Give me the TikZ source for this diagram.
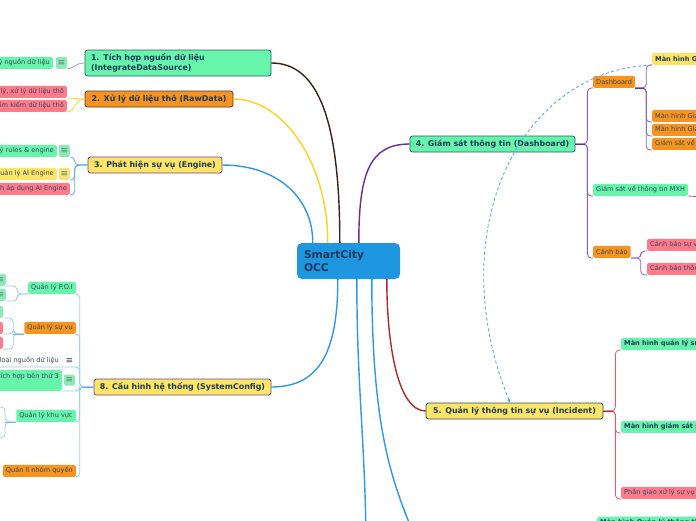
\documentclass[tikz,border=0pt]{standalone}
\usepackage{fontspec}
\setmainfont{DejaVu Sans}
\usetikzlibrary{arrows.meta}
\definecolor{mint}{HTML}{66F5AA}
\definecolor{mintic}{HTML}{8BEBB8}
\definecolor{orng}{HTML}{F7931E}
\definecolor{yell}{HTML}{FFE566}
\definecolor{yellic}{HTML}{F6E27A}
\definecolor{pink}{HTML}{FF7B8C}
\definecolor{ctrblue}{HTML}{1E96E0}
\definecolor{navy}{HTML}{1B3A5C}
\definecolor{txttwo}{HTML}{34495E}
\definecolor{icngray}{HTML}{5C7F6C}
\definecolor{brownln}{HTML}{3B2016}
\definecolor{yelln}{HTML}{FFD21F}
\definecolor{blueln}{HTML}{2E98E6}
\definecolor{purpln}{HTML}{6A2C91}
\definecolor{redln}{HTML}{B5262C}
\definecolor{lblue}{HTML}{9ACDF0}
\definecolor{lpurp}{HTML}{8E62BC}
\definecolor{lred}{HTML}{D8646A}
\definecolor{tealbd}{HTML}{2D5A67}
\definecolor{purpbd}{HTML}{6B3F93}
\definecolor{navybd}{HTML}{244A66}
\definecolor{darkbd}{HTML}{4A3A30}
\definecolor{dashblue}{HTML}{5FA8E8}
\begin{document}
\begin{tikzpicture}[x=1pt,y=-1pt,
  lone/.style={draw, line width=0.7pt, rounded corners=2.5pt, font=\fontsize{7.9}{9.6}\selectfont\bfseries, text=navy, minimum height=16pt, inner sep=0pt},
  ltwo/.style={rounded corners=1.5pt, font=\fontsize{6.6}{8}\selectfont, text=txttwo, minimum height=12pt, inner xsep=3pt, inner ysep=0pt},
  ltwob/.style={ltwo, font=\fontsize{6.6}{8}\selectfont\bfseries, text=navy},
  icn/.style={rounded corners=1.5pt, minimum width=11pt, minimum height=12pt, inner sep=0pt, font=\fontsize{9}{9}\selectfont, text=icngray},
  conn/.style={line width=1.4pt},
  brk/.style={line width=0.8pt, rounded corners=4pt},
]
\useasboundingbox (0,0) rectangle (696,520);
\clip (0,0) rectangle (696,520);

% center
\node[fill=ctrblue, rounded corners=5pt, minimum width=103pt, minimum height=36pt, text width=89pt, align=left, inner sep=0pt, font=\fontsize{10.7}{12.4}\selectfont\bfseries, text=navy] (c) at (348.5,261) {SmartCity\\OCC};

% level 1
\node[lone, fill=mint, draw=tealbd, minimum width=186pt, minimum height=26pt, text width=174pt, align=left] (n1) at (178,63) {1. Tích hợp nguồn dữ liệu\\(IntegrateDataSource)};
\node[lone, fill=orng, draw=darkbd, minimum width=148pt] (n2) at (159,99) {2. Xử lý dữ liệu thô (RawData)};
\node[lone, fill=yell, draw=purpbd, minimum width=134pt] (n3) at (155,165) {3. Phát hiện sự vụ (Engine)};
\node[lone, fill=yell, draw=purpbd, minimum width=177pt] (n8) at (182.5,387) {8. Cấu hình hệ thống (SystemConfig)};
\node[lone, fill=mint, draw=tealbd, minimum width=165pt] (n4) at (492.5,144) {4. Giám sát thông tin (Dashboard)};
\node[lone, fill=yell, draw=navybd, minimum width=177pt] (n5) at (514.5,411) {5. Quản lý thông tin sự vụ (Incident)};

% right level 2
\node[ltwo, fill=orng, anchor=south west] (dash) at (593,88) {Dashboard};
\node[ltwob, fill=yell, anchor=south west] (mhg) at (652,65) {Màn hình Giám sát tổng quan};
\node[ltwo, fill=orng, anchor=south west] (mha) at (652,122) {Màn hình Giám sát an ninh};
\node[ltwo, fill=orng, anchor=south west] (mhb) at (652,136) {Màn hình Giám sát giao thông};
\node[ltwo, fill=orng, anchor=south west] (gsv) at (652,150) {Giám sát về môi trường};
\node[ltwo, fill=mint, anchor=south west] (mxh) at (593,196) {Giám sát về thông tin MXH};
\node[ltwo, fill=orng, anchor=south west] (cb) at (593,258) {Cảnh báo};
\node[ltwo, fill=pink, anchor=south west] (cba) at (647,251) {Cảnh báo sự vụ};
\node[ltwo, fill=pink, anchor=south west] (cbb) at (647,275) {Cảnh báo thông tin};
\node[ltwob, fill=mint, anchor=south west] (ia) at (621,350) {Màn hình quản lý sự vụ};
\node[ltwob, fill=mint, anchor=south west] (ib) at (621,433) {Màn hình giám sát sự vụ};
\node[ltwo, fill=pink, anchor=south west] (ic) at (621,499) {Phân giao xử lý sự vụ};
\node[ltwob, fill=mint, anchor=north west] (bt) at (597,516.5) {Màn hình Quản lý thông tin};

% left level 2
\node[ltwo, fill=mint, anchor=south east] (ca) at (53,69) {Quản lý nguồn dữ liệu};
\node[icn, fill=mintic, anchor=south east] (can) at (67,69) {≡};
\node[ltwo, fill=pink, anchor=south east] (cba2) at (67,98) {Quản lý, xử lý dữ liệu thô};
\node[ltwo, fill=pink, anchor=south east] (cbb2) at (67,112) {Tìm kiếm dữ liệu thô};
\node[ltwo, fill=mint, anchor=south east] (cc1) at (57,157) {Quản lý rules \& engine};
\node[icn, fill=mintic, anchor=south east] (cc1n) at (70,157) {≡};
\node[ltwo, fill=yell, anchor=south east] (cc2) at (57,180) {Quản lý AI Engine};
\node[icn, fill=yellic, anchor=south east] (cc2n) at (70,180) {≡};
\node[ltwo, fill=pink, anchor=south east] (cc3) at (70,195) {Cấu hình áp dụng AI Engine};

\node[ltwo, fill=mint, anchor=south east] (poi) at (76,294) {Quản lý P.O.I};
\node[ltwo, fill=orng, anchor=south east] (suvu) at (76,334) {Quản lý sự vụ};
\node[ltwo, anchor=south east] (loai) at (62,367) {Quản lý loại nguồn dữ liệu};
\node[icn, anchor=south east, text=txttwo] (loain) at (75,367) {≡};
\node[ltwo, fill=mint, anchor=south east, align=left, minimum height=21pt] (tich) at (62,391) {Quản lý tích hợp bên thứ 3\\(API)};
\node[icn, fill=mintic, anchor=east, minimum height=11pt] (tichn) at (75,380) {≡};
\node[ltwo, fill=mint, anchor=south east] (khu) at (76,422) {Quản lý khu vực};
\node[ltwo, fill=orng, anchor=south east] (nhom) at (76,477) {Quản lí nhóm quyền};

\node[icn, fill=mintic, anchor=south east] (pa) at (6,286) {≡};
\node[icn, fill=mintic, anchor=south east] (pb) at (6,301) {≡};
\node[icn, fill=mintic, anchor=south east] (sa) at (3,318) {≡};
\node[ltwo, fill=pink, anchor=south east, minimum width=20pt] (sb) at (3,334) {};
\node[ltwo, fill=pink, anchor=south east, minimum width=20pt] (sc) at (3,349) {};
\coordinate (kva) at (-5,407);
\coordinate (kvb) at (-5,438);
\coordinate (mxhr) at (702,197);
\coordinate (da) at (366,530);
\coordinate (db) at (412,530);

% level 1 connectors
\draw[conn, brownln] (n1.east) .. controls +(48,0) and +(0,-120) .. ([xshift=43pt]c.north west);
\draw[conn, yelln] (n2.east) .. controls +(50,0) and +(0,-80) .. ([xshift=31pt]c.north west);
\draw[conn, blueln] (n3.east) .. controls +(55,0) and +(0,-45) .. ([xshift=16pt]c.north west);
\draw[conn, blueln] (n8.east) .. controls +(50,0) and +(0,70) .. ([xshift=41pt]c.south west);
\draw[conn, purpln] ([xshift=62pt]c.north west) .. controls +(0,-70) and +(-40,0) .. (n4.west);
\draw[conn, redln] ([xshift=90pt]c.south west) .. controls +(0,65) and +(-28,0) .. (n5.west);
\draw[conn, blueln] ([xshift=60pt]c.south west) .. controls +(0,100) and +(-2,-100) .. (da);
\draw[conn, blueln] ([xshift=75pt]c.south west) .. controls +(0,150) and +(-20,-50) .. (db);

% right brackets
\draw[brk, lpurp] (n4.east) -- ++(12,0) |- (dash.south west);
\draw[brk, lpurp] (n4.east) -- ++(12,0) |- (mxh.south west);
\draw[brk, lpurp] (n4.east) -- ++(12,0) |- (cb.south west);
\draw[line width=1pt, purpln] (n4.east) -- ++(10,0);
\draw[brk, lpurp] (dash.south east) -- ++(11,0) |- (mhg.south west);
\draw[brk, lpurp] (dash.south east) -- ++(11,0) |- (mha.south west);
\draw[brk, lpurp] (dash.south east) -- ++(11,0) |- (mhb.south west);
\draw[brk, lpurp] (dash.south east) -- ++(11,0) |- (gsv.south west);
\draw[line width=1pt, purpln] (dash.south east) -- ++(9,0);
\draw[brk, lpurp] (mxh.south east) -- (mxhr);
\draw[brk, lpurp] (cb.south east) -- ++(10,0) |- (cba.south west);
\draw[brk, lpurp] (cb.south east) -- ++(10,0) |- (cbb.south west);
\draw[brk, lred] (n5.east) -- ++(12,0) |- (ia.south west);
\draw[brk, lred] (n5.east) -- ++(12,0) |- (ib.south west);
\draw[brk, lred] (n5.east) -- ++(12,0) |- (ic.south west);
\draw[line width=1pt, redln] (n5.east) -- ++(10,0);

% left connectors
\draw[line width=0.8pt, gray!70] (n1.west) .. controls +(-10,0) and +(6,0) .. (can.south east);
\draw[line width=0.8pt, yelln] (n2.west) .. controls +(-10,0) and +(8,0) .. (cba2.south east);
\draw[line width=0.8pt, yelln] (n2.west) .. controls +(-10,0) and +(8,0) .. (cbb2.south east);
\draw[brk, blueln!80] (n3.west) -- ++(-13,0) |- (cc1n.south east);
\draw[brk, blueln!80] (n3.west) -- ++(-13,0) |- (cc2n.south east);
\draw[brk, blueln!80] (n3.west) -- ++(-13,0) |- (cc3.south east);
\draw[brk, lblue] (n8.west) -- ++(-14,0) |- (poi.south east);
\draw[brk, lblue] (n8.west) -- ++(-14,0) |- (suvu.south east);
\draw[brk, lblue] (n8.west) -- ++(-14,0) |- (loai.south west);
\draw[brk, lblue] (n8.west) -- ++(-14,0) |- (tich.south east);
\draw[brk, lblue] (n8.west) -- ++(-14,0) |- (khu.south east);
\draw[brk, lblue] (n8.west) -- ++(-14,0) |- (nhom.south east);
\draw[line width=1pt, blueln!80] (n8.west) -- ++(-12,0);
\draw[brk, lblue] (poi.south west) -- ++(-11,0) |- (pa.south east);
\draw[brk, lblue] (poi.south west) -- ++(-11,0) |- (pb.south east);
\draw[brk, lblue] (suvu.south west) -- ++(-11,0) |- (sa.south east);
\draw[brk, lblue] (suvu.south west) -- ++(-11,0) |- (sb.south east);
\draw[brk, lblue] (suvu.south west) -- ++(-11,0) |- (sc.south east);
\draw[brk, blueln!70] (suvu.south west) -- ++(-11,0);
\draw[brk, lblue] (khu.south west) -- ++(-11,0) |- (kva);
\draw[brk, lblue] (khu.south west) -- ++(-11,0) |- (kvb);
\draw[brk, blueln!70] (khu.south west) -- ++(-11,0);

% dashed relation
\draw[dashblue, line width=0.9pt, dash pattern=on 3pt off 2.5pt, -{Stealth[length=4pt,width=4pt]}] (mhg.south west) .. controls (520,70) and (440,230) .. ([xshift=-4.5pt]n5.north);
\end{tikzpicture}
\end{document}
